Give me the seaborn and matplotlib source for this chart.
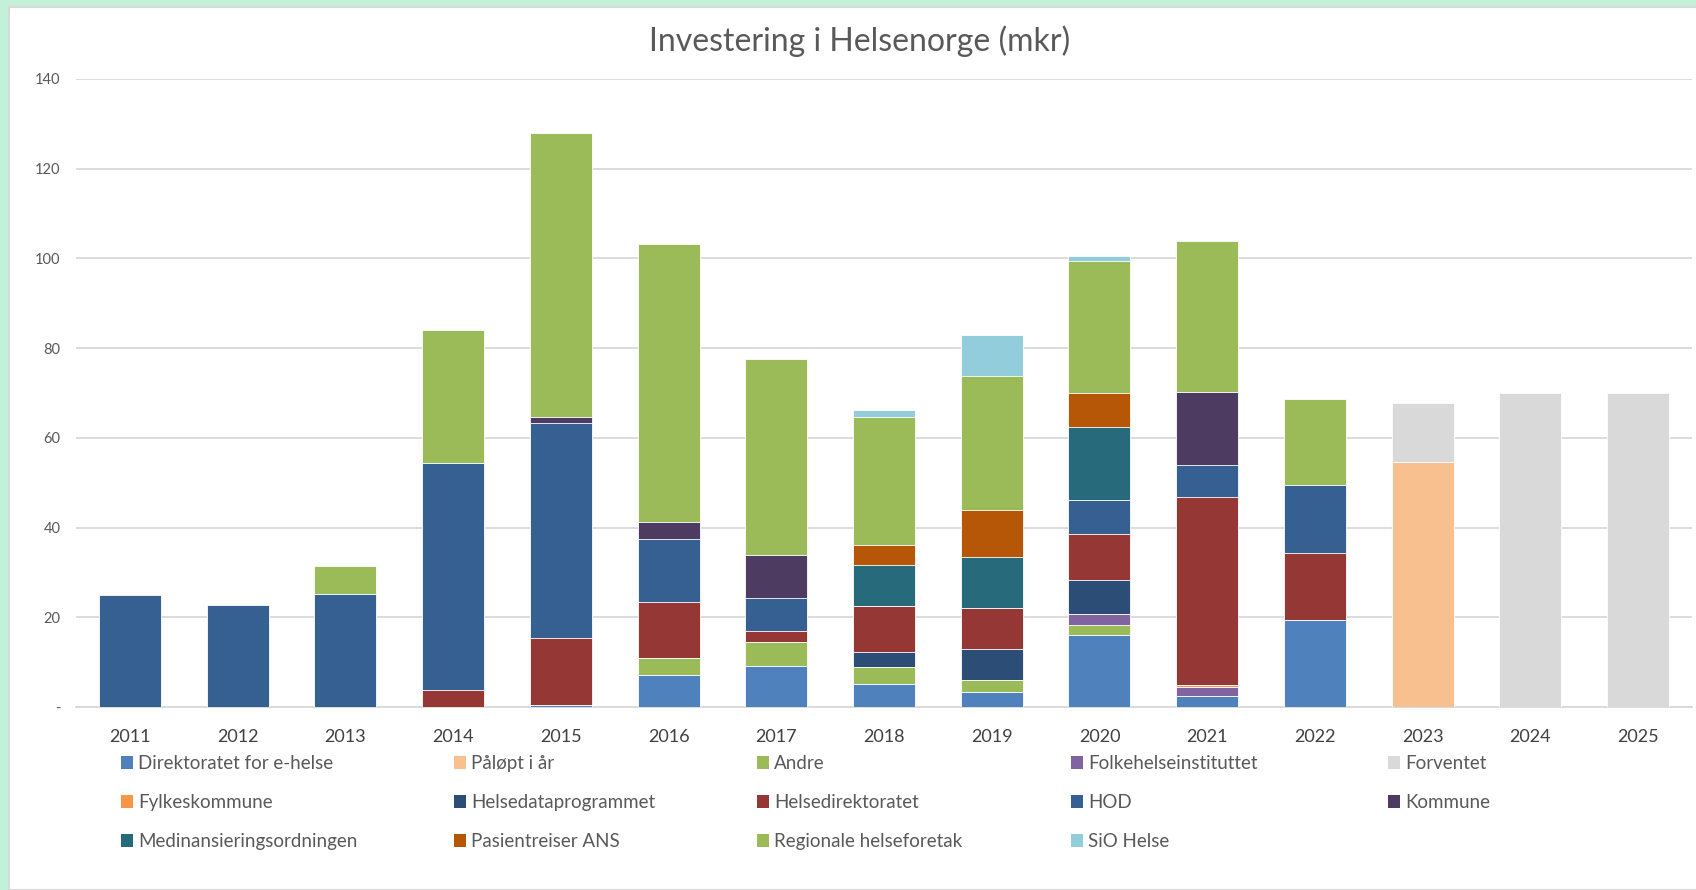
import matplotlib
matplotlib.use("Agg")
import matplotlib.pyplot as plt
from matplotlib.patches import Patch, Rectangle
import seaborn as sns
import pandas as pd
import numpy as np

# data (mkr)
years = [str(y) for y in range(2011, 2026)]

direktoratet = [0, 0, 0, 0, 0.4, 7.1, 9.1, 5.2, 3.4, 16.0, 2.5, 19.3, 0, 0, 0]
paalopt = [0, 0, 0, 0, 0, 0, 0, 0, 0, 0, 0, 0, 54.6, 0, 0]
andre = [0, 0, 0, 0, 0, 3.9, 5.3, 3.7, 2.7, 2.3, 0, 0.2, 0, 0, 0]
folkehelse = [0, 0, 0, 0, 0, 0, 0, 0, 0, 2.4, 2.0, 0, 0, 0, 0]
forventet = [0, 0, 0, 0, 0, 0, 0, 0, 0, 0, 0, 0, 13.2, 70, 70]
fylkeskommune = [0, 0, 0, 0, 0, 0, 0, 0, 0, 0, 0.3, 0, 0, 0, 0]
helsedata = [0, 0, 0, 0, 0, 0, 0, 3.3, 6.8, 7.6, 0, 0, 0, 0, 0]
helsedir = [0, 0, 0, 3.8, 15.0, 12.3, 2.5, 10.4, 9.1, 10.2, 42.0, 14.9, 0, 0, 0]
hod = [24.9, 22.8, 25.1, 50.7, 47.9, 14.2, 7.5, 0, 0, 7.7, 7.2, 15.1, 0, 0, 0]
kommune = [0, 0, 0, 0, 1.4, 3.7, 9.5, 0, 0, 0, 16.2, 0, 0, 0, 0]
medfin = [0, 0, 0, 0, 0, 0, 0, 9.0, 11.4, 16.2, 0, 0, 0, 0, 0]
pasientreiser = [0, 0, 0, 0, 0, 0, 0, 4.6, 10.6, 7.5, 0, 0, 0, 0, 0]
regionale = [0, 0, 6.3, 29.6, 63.2, 62.1, 43.6, 28.5, 29.9, 29.5, 33.7, 19.2, 0, 0, 0]
sio = [0, 0, 0, 0, 0, 0, 0, 1.4, 9.1, 1.2, 0, 0, 0, 0, 0]

series = [
    ("Direktoratet for e-helse", direktoratet, "#4F81BD"),
    ("Påløpt i år", paalopt, "#F9C08F"),
    ("Andre", andre, "#9BBB59"),
    ("Folkehelseinstituttet", folkehelse, "#8064A2"),
    ("Forventet", forventet, "#D9D9D9"),
    ("Fylkeskommune", fylkeskommune, "#F79646"),
    ("Helsedataprogrammet", helsedata, "#2C4D75"),
    ("Helsedirektoratet", helsedir, "#953735"),
    ("HOD", hod, "#366092"),
    ("Kommune", kommune, "#4D3B62"),
    ("Medinansieringsordningen", medfin, "#276A7C"),
    ("Pasientreiser ANS", pasientreiser, "#B65708"),
    ("Regionale helseforetak", regionale, "#9BBB59"),
    ("SiO Helse", sio, "#92CDDC"),
]

sns.set_theme(style="white")
plt.rcParams["font.family"] = ["Lato", "DejaVu Sans"]
text_grey = "#595959"
grid_grey = "#D9D9D9"

fig = plt.figure(figsize=(16.96, 8.90), dpi=100, facecolor="#C2F0D9")
# white chart area with thin grey border
fig.patches.append(Rectangle((9 / 1696, 0), 1 - 9 / 1696 + 0.01, 1 - 7 / 890,
                             transform=fig.transFigure, facecolor="white",
                             edgecolor=grid_grey, linewidth=1.5, zorder=-5))

ax = fig.add_axes([76 / 1696, 1 - 707 / 890, (1692 - 76) / 1696, (707 - 79) / 890])
ax.set_facecolor("none")
ax.set_zorder(2)

# stacked bars: draw cumulative totals from the top layer down
df = pd.DataFrame({name: vals for name, vals, _ in series}, index=years)
cum = df.cumsum(axis=1)
for name, _, color in reversed(series):
    sns.barplot(x=years, y=cum[name].values, color=color, saturation=1,
                width=0.575, errorbar=None, edgecolor="white", linewidth=0.6,
                ax=ax, zorder=3)

ax.set_ylim(0, 140)
ax.set_xlim(-0.5, len(years) - 0.5)
ax.set_yticks(np.arange(0, 141, 20))
ax.set_yticklabels(["-"] + [str(v) for v in range(20, 141, 20)])
ax.yaxis.grid(True, color=grid_grey, linewidth=1.3, zorder=0)
ax.set_axisbelow(True)
for side in ["left", "right", "top"]:
    ax.spines[side].set_visible(False)
ax.spines["bottom"].set_color(grid_grey)
ax.spines["bottom"].set_linewidth(1.3)
ax.tick_params(axis="y", length=0, pad=11, labelsize=10.5, labelcolor=text_grey)
ax.tick_params(axis="x", length=0, pad=16, labelsize=13, labelcolor="#404040")
ax.set_xlabel("")
ax.set_ylabel("")

fig.text(860 / 1696, 1 - 41 / 890, "Investering i Helsenorge (mkr)",
         ha="center", va="center", fontsize=23, color=text_grey)

# legend laid out row by row in five columns, like the original
col_x = [121, 454, 757, 1071, 1388]
ncols = 5
for c in range(ncols):
    handles = []
    for r in range(3):
        k = r * ncols + c
        if k < len(series):
            name, _, color = series[k]
            handles.append(Patch(facecolor=color, edgecolor="none", label=name))
    fig.legend(handles=handles, loc="upper left",
               bbox_to_anchor=(col_x[c] / 1696, 1 - 755 / 890),
               frameon=False, fontsize=13.5, labelcolor=text_grey,
               handlelength=0.65, handleheight=0.65, handletextpad=0.25,
               labelspacing=1.17, borderaxespad=0, borderpad=0)

fig.savefig("out.png", dpi=100, facecolor=fig.get_facecolor())
